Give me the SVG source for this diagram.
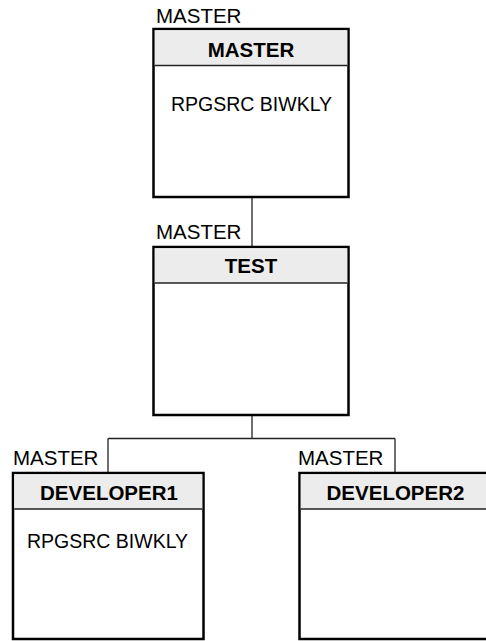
<svg xmlns="http://www.w3.org/2000/svg" width="486" height="641" viewBox="0 0 486 641">
<style>
.box{fill:#ffffff;stroke:#000;stroke-width:2.5}
.hdr{fill:#ececec;stroke:none}
.div{stroke:#222;stroke-width:1.3}
.lbl{font-family:"Liberation Sans",Arial,sans-serif;font-size:20.5px;fill:#000}
.ttl{font-family:"Liberation Sans",Arial,sans-serif;font-size:20.5px;font-weight:bold;fill:#000;text-anchor:middle}
.body{font-family:"Liberation Sans",Arial,sans-serif;font-size:19.5px;fill:#000;text-anchor:middle}
.con{stroke:#222;stroke-width:1.3;fill:none}
</style>
<rect width="486" height="641" fill="#fff"/>
<g id="connectors">
<path class="con" d="M252 197V247"/>
<path class="con" d="M252 415V438.5M108 438.5H395M108 438.5V473M395 438.5V473"/>
</g>
<g id="master">
<text class="lbl" x="156" y="22.5">MASTER</text>
<rect class="box" x="153.5" y="29" width="195" height="168"/>
<rect class="hdr" x="154.75" y="30.25" width="192.5" height="35"/>
<line class="div" x1="154.75" y1="65.5" x2="347.25" y2="65.5"/>
<text class="ttl" x="251" y="56.5">MASTER</text>
<text class="body" x="251.5" y="111">RPGSRC BIWKLY</text>
</g>
<g id="test">
<text class="lbl" x="156" y="239.3">MASTER</text>
<rect class="box" x="153.5" y="247" width="195" height="168"/>
<rect class="hdr" x="154.75" y="248.25" width="192.5" height="34.5"/>
<line class="div" x1="154.75" y1="283" x2="347.25" y2="283"/>
<text class="ttl" x="251" y="272.5">TEST</text>
</g>
<g id="developer1">
<text class="lbl" x="13" y="465">MASTER</text>
<rect class="box" x="13" y="473" width="190.5" height="166"/>
<rect class="hdr" x="14.25" y="474.25" width="188" height="34.5"/>
<line class="div" x1="14.25" y1="509" x2="202.25" y2="509"/>
<text class="ttl" x="109" y="500">DEVELOPER1</text>
<text class="body" x="107.5" y="548">RPGSRC BIWKLY</text>
</g>
<g id="developer2">
<text class="lbl" x="298" y="465">MASTER</text>
<rect class="box" x="299.5" y="473" width="191" height="166"/>
<rect class="hdr" x="300.75" y="474.25" width="188.5" height="34.5"/>
<line class="div" x1="300.75" y1="509" x2="489.25" y2="509"/>
<text class="ttl" x="395.5" y="500">DEVELOPER2</text>
</g>
</svg>
